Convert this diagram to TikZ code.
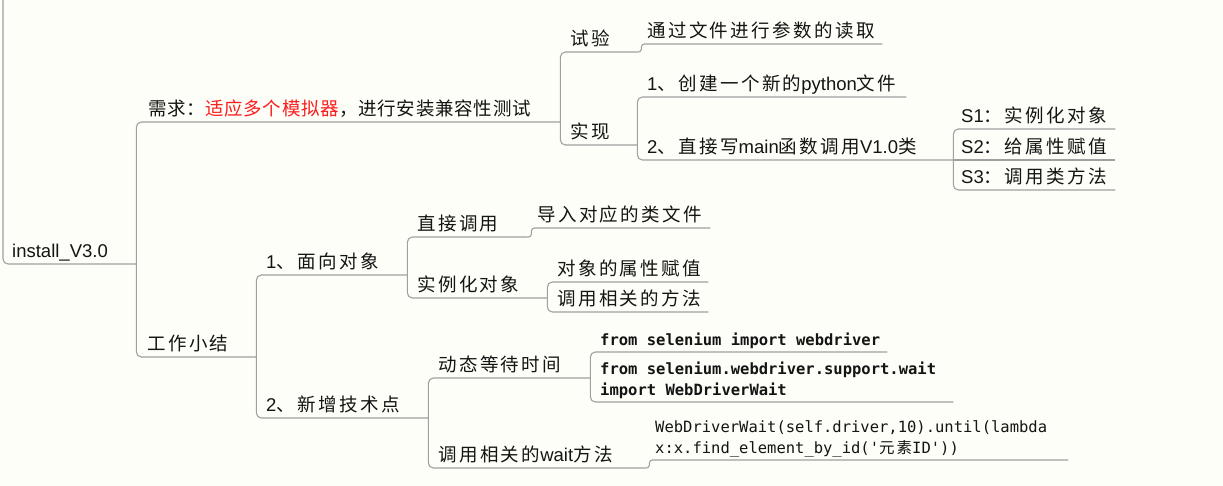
\documentclass[tikz,border=0pt]{standalone}
\usepackage{fontspec}
\setmainfont{Liberation Sans}
\newfontfamily\cjk[LetterSpace=13]{Noto Sans CJK SC}
\newfontfamily\cjkn[LetterSpace=4]{Noto Sans CJK SC}
\newfontfamily\lat[Scale=1.0]{Liberation Sans}
\newfontfamily\code[Ligatures=TeXOff]{DejaVu Sans Mono}
\newcommand\csp{\hspace*{0.602em}}
\definecolor{bg}{RGB}{254,254,248}
\definecolor{linec}{RGB}{160,160,160}
\definecolor{ink}{RGB}{20,20,20}
\definecolor{hot}{RGB}{250,30,30}
\tikzset{
  conn/.style={draw=linec, line width=1.1pt, rounded corners=5pt},
  stepconn/.style={draw=linec, line width=1.1pt, rounded corners=3pt},
  tp/.style={anchor=south west, inner sep=0pt, inner ysep=6pt, text depth=0pt,
    text width=#1, align=left, text=ink, font=\cjk\fontsize{18.5}{21}\selectfont},
  cd/.style={tp=#1, font=\code\fontsize{15.5}{21}\selectfont},
  twoline/.style={text depth=21pt},
}
\begin{document}
\begin{tikzpicture}[x=1pt,y=-1pt]
\fill[bg] (0,0) rectangle (1223,486);
\useasboundingbox (0,0) rectangle (1223,486);

\coordinate (top) at (3,0);
\node[tp=124] (root) at (12,264) {\lat install\_V3.0};
\node[tp=412, font=\cjkn\fontsize{18.5}{21}\selectfont] (req) at (148,122) {需求：\textcolor{hot}{适应多个模拟器}，进行安装兼容性测试};
\node[tp=109] (work) at (147,357) {工作小结};

\node[tp=67] (shiyan) at (570,52) {试验};
\node[tp=67] (shixian) at (570,145) {实现};
\node[tp=235] (read) at (647,44) {通过文件进行参数的读取};
\node[tp=259] (py) at (647,97) {{\lat 1}、创建一个新的{\lat python}文件};
\node[tp=306] (main) at (647,160) {{\lat 2}、直接写{\lat main}函数调用{\lat V1.0}类};
\node[tp=154] (s1) at (961,129) {{\lat S1}：实例化对象};
\node[tp=154] (s2) at (961,160) {{\lat S2}：给属性赋值};
\node[tp=154] (s3) at (961,190) {{\lat S3}：调用类方法};

\node[tp=141] (oo) at (266,275) {{\lat 1}、面向对象};
\node[tp=162] (tech) at (266,418) {{\lat 2}、新增技术点};
\node[tp=110] (direct) at (417,237) {直接调用};
\node[tp=130] (inst) at (417,298) {实例化对象};
\node[tp=173] (import) at (537,228) {导入对应的类文件};
\node[tp=151] (attr) at (557,282) {对象的属性赋值};
\node[tp=151] (meth) at (557,312) {调用相关的方法};
\node[tp=152] (dyn) at (438,378) {动态等待时间};
\node[tp=207] (wait) at (438,468) {调用相关的{\lat wait}方法};
\node[cd=287, font=\code\bfseries\fontsize{15.5}{21}\selectfont] (code1) at (600,352) {\mbox{from\csp selenium\csp import\csp webdriver}};
\node[cd=353, twoline, font=\code\bfseries\fontsize{15.5}{21}\selectfont] (code2) at (600,402) {\mbox{from\csp selenium.webdriver.support.wait}\\\mbox{import\csp WebDriverWait}};
\node[cd=413, twoline] (code3) at (655,460) {\mbox{WebDriverWait(self.driver,10).until(lambda}\\\mbox{x:x.find\_element\_by\_id('{\cjk\fontsize{15.5}{21}\selectfont 元素}ID'))}};

\draw[conn] (top) |- (root.south east);
\draw[conn] (root.south east) |- (req.south east);
\draw[conn] (root.south east) |- (work.south east);
\draw[conn] (req.south east) |- (shiyan.south east);
\draw[conn] (req.south east) |- (shixian.south east);
\draw[stepconn] (shiyan.south east) -- ++(4,0) |- (read.south east);
\draw[conn] (shixian.south east) |- (py.south east);
\draw[conn] (shixian.south east) |- (main.south east);
\draw[conn] (main.south east) |- (s1.south east);
\draw[conn] (main.south east) -- (s2.south east);
\draw[conn] (main.south east) |- (s3.south east);
\draw[conn] (work.south east) |- (oo.south east);
\draw[conn] (work.south east) |- (tech.south east);
\draw[conn] (oo.south east) |- (direct.south east);
\draw[conn] (oo.south east) |- (inst.south east);
\draw[stepconn] (direct.south east) -- ++(4,0) |- (import.south east);
\draw[conn] (inst.south east) |- (attr.south east);
\draw[conn] (inst.south east) |- (meth.south east);
\draw[conn] (tech.south east) |- (dyn.south east);
\draw[conn] (tech.south east) |- (wait.south east);
\draw[conn] (dyn.south east) |- (code1.south east);
\draw[conn] (dyn.south east) |- (code2.south east);
\draw[stepconn] (wait.south east) -- ++(4,0) |- (code3.south east);
\end{tikzpicture}
\end{document}
